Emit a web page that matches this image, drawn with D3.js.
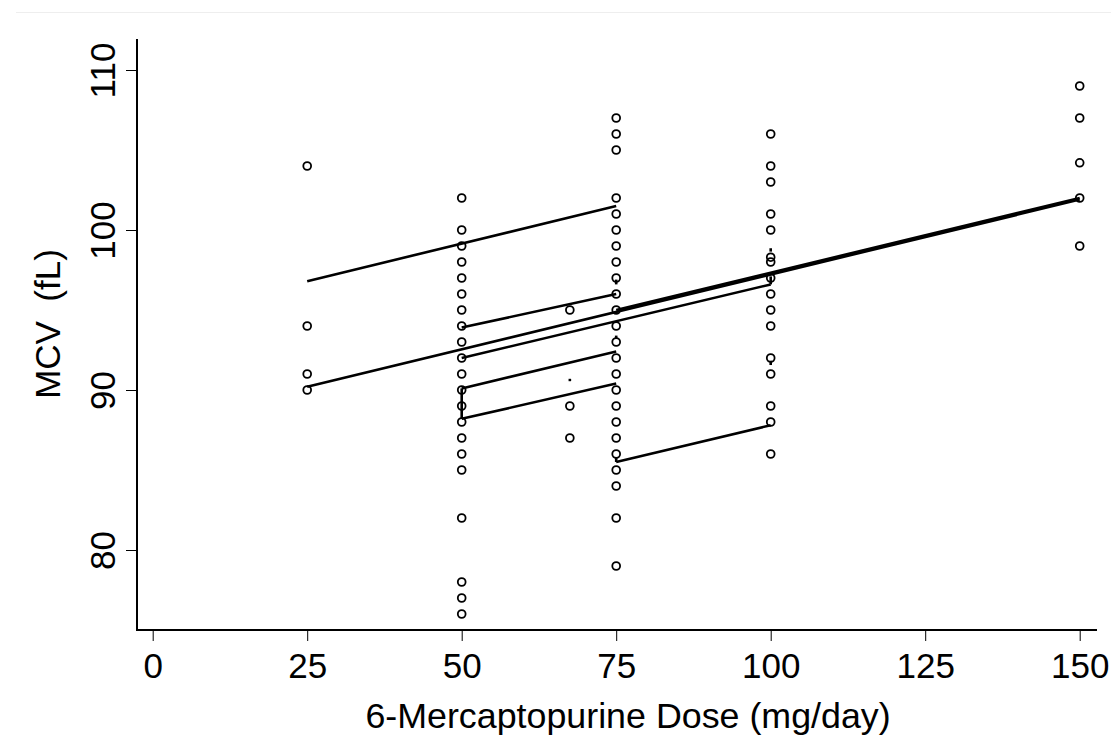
<!DOCTYPE html>
<html>
<head>
<meta charset="utf-8">
<script src="https://cdn.jsdelivr.net/npm/d3@7"></script>
<style>
  html, body { margin: 0; padding: 0; background: #fff; }
  svg { display: block; }
  text { font-family: "Liberation Sans", Arial, Helvetica, sans-serif; fill: #000; }
</style>
</head>
<body>
<svg id="chart" width="1111" height="744"></svg>
<script>
// ---- data ----
const xTicks = [0, 25, 50, 75, 100, 125, 150];
const yTicks = [80, 90, 100, 110];
const xLabel = "6-Mercaptopurine Dose (mg/day)";
const yLabel = "MCV  (fL)";

// observed MCV values per dose
const doses = [25, 50, 67.5, 75, 100, 150];
const mcv25 = [104, 94, 91, 90];
const mcv50 = [102, 100, 99, 98, 97, 96, 95, 94, 93, 92, 91, 90, 89, 88, 87, 86, 85, 82, 78, 77, 76];
const mcv67 = [95, 89, 87];
const mcv75 = [107, 106, 105, 102, 101, 100, 99, 98, 97, 96, 95, 94, 93, 92, 91, 90, 89, 88, 87, 86, 85, 84, 82, 79];
const mcv100 = [106, 104, 103, 101, 100, 98.3, 98, 97, 96, 95, 94, 92, 91, 89, 88, 86];
const mcv150 = [109, 107, 104.2, 102, 99];
const mcvByDose = [mcv25, mcv50, mcv67, mcv75, mcv100, mcv150];

// individual fitted lines: [dose0, mcv0, dose1, mcv1]
const fitLines = [
  [25, 96.8, 75, 101.5],
  [25, 90.2, 150, 101.9],
  [75, 95.0, 150, 102.0],
  [50, 93.9, 75, 96.0],
  [50, 92.0, 100, 96.6],
  [50, 90.1, 75, 92.4],
  [50, 88.2, 75, 90.4],
  [75, 85.5, 100, 87.8],
  [50, 88.2, 50, 90.1]
];
// very short fits (single-dose subjects)
const shortFits = [
  [67.5, 90.55, 67.5, 90.7],
  [75, 96.6, 75, 96.9],
  [75, 93.2, 75, 93.4],
  [75, 85.5, 75, 85.8],
  [100, 98.65, 100, 98.86],
  [100, 91.56, 100, 91.83],
  [100, 96.6, 100, 97.1]
];

// ---- drawing ----
const svg = d3.select("#chart");
const x = d3.scaleLinear().domain([0, 150]).range([152.7, 1079.7]);
const y = d3.scaleLinear().domain([80, 110]).range([550, 70]);

// faint top border
svg.append("line").attr("x1", 16).attr("x2", 1111).attr("y1", 12.5).attr("y2", 12.5)
  .attr("stroke", "#eeeeee").attr("stroke-width", 1);

const axisLeftX = 137, axisBottomY = 630;

// axes lines
svg.append("line").attr("x1", axisLeftX).attr("x2", axisLeftX)
  .attr("y1", 39).attr("y2", axisBottomY + 1)
  .attr("stroke", "#000").attr("stroke-width", 2);
svg.append("line").attr("x1", axisLeftX - 1).attr("x2", 1097)
  .attr("y1", axisBottomY).attr("y2", axisBottomY)
  .attr("stroke", "#000").attr("stroke-width", 2);

// x axis ticks via d3 axis
const xAxis = d3.axisBottom(x).tickValues(xTicks).tickSize(10).tickPadding(14).tickSizeOuter(0);
const gx = svg.append("g").attr("transform", `translate(0,${axisBottomY + 1})`).call(xAxis);
gx.select(".domain").remove();
gx.selectAll(".tick line").attr("stroke", "#000").attr("stroke-width", 1);
gx.selectAll(".tick text").attr("font-size", 35).attr("font-family", "Liberation Sans, Arial, sans-serif")
  .attr("fill", "#000").attr("dy", null).attr("y", 47);

// y axis ticks
const yAxis = d3.axisLeft(y).tickValues(yTicks).tickSize(10).tickSizeOuter(0);
const gy = svg.append("g").attr("transform", `translate(${axisLeftX - 1},0)`).call(yAxis);
gy.select(".domain").remove();
gy.selectAll(".tick line").attr("stroke", "#000").attr("stroke-width", 1);
gy.selectAll(".tick text")
  .attr("font-size", 35).attr("font-family", "Liberation Sans, Arial, sans-serif")
  .attr("fill", "#000")
  .attr("x", null).attr("dy", null)
  .attr("text-anchor", "middle")
  .attr("transform", "translate(-21,0) rotate(-90)")
  .attr("y", 0);

// axis titles
svg.append("text").attr("x", 628).attr("y", 728).attr("text-anchor", "middle")
  .attr("font-size", 35.8).style("white-space", "pre").text(xLabel);
svg.append("text").attr("transform", "translate(60,324) rotate(-90)")
  .attr("text-anchor", "middle").attr("font-size", 35)
  .style("white-space", "pre").text(yLabel);

// points
const pts = [];
doses.forEach((d, i) => mcvByDose[i].forEach(v => pts.push({ d, v })));
svg.append("g").selectAll("circle").data(pts).join("circle")
  .attr("cx", p => x(p.d)).attr("cy", p => y(p.v)).attr("r", 3.9)
  .attr("fill", "none").attr("stroke", "#000").attr("stroke-width", 1.8);

// fitted lines
svg.append("g").selectAll("line").data(fitLines.concat(shortFits)).join("line")
  .attr("x1", l => x(l[0])).attr("y1", l => y(l[1]))
  .attr("x2", l => x(l[2])).attr("y2", l => y(l[3]))
  .attr("stroke", "#000").attr("stroke-width", 2.6).attr("stroke-linecap", "butt");
</script>
</body>
</html>
